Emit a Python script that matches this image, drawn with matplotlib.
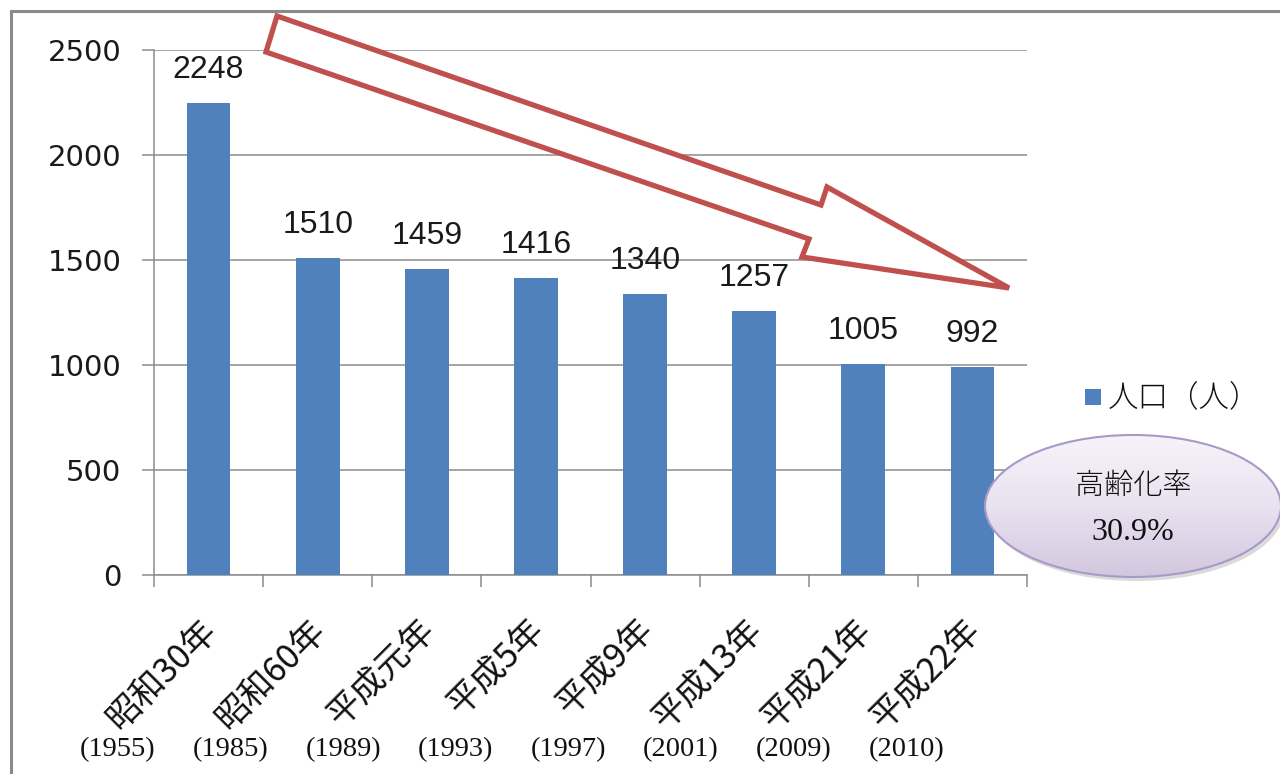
import numpy as np
import matplotlib
matplotlib.use("Agg")
import matplotlib.pyplot as plt
from matplotlib.patches import Polygon, Ellipse, Rectangle
from matplotlib.colors import LinearSegmentedColormap
import matplotlib.transforms as mtransforms

plt.rcParams['font.family'] = ['DejaVu Sans', 'Noto Sans CJK JP']

# ---- data ----
categories = ["昭和30年", "昭和60年", "平成元年", "平成5年", "平成9年", "平成13年", "平成21年", "平成22年"]
years = ["(1955)", "(1985)", "(1989)", "(1993)", "(1997)", "(2001)", "(2009)", "(2010)"]
population = [2248, 1510, 1459, 1416, 1340, 1257, 1005, 992]
legend_label = "人口（人）"
bubble_title = "高齢化率"
bubble_value = "30.9%"
yticks = [0, 500, 1000, 1500, 2000, 2500]

W, H = 1280, 774
fig = plt.figure(figsize=(W / 100, H / 100), dpi=100)
fig.patch.set_facecolor("white")

ax = fig.add_axes([154 / W, 1 - 575 / H, (1027 - 154) / W, (575 - 50) / H])
x = np.arange(len(categories))
ax.bar(x, population, width=0.4, color="#4F81BD", zorder=3)
ax.set_xlim(-0.5, len(categories) - 0.5)
ax.set_ylim(0, 2500)
ax.set_yticks(yticks)
ax.set_yticklabels([str(t) for t in yticks], fontsize=21, color="#1a1a1a")
ax.grid(axis="y", color="#8C8C8C", linewidth=1.1, zorder=0)
ax.set_axisbelow(True)
for s in ["top", "right"]:
    ax.spines[s].set_visible(False)
for s in ["left", "bottom"]:
    ax.spines[s].set_color("#8C8C8C")
    ax.spines[s].set_linewidth(1.1)
ax.tick_params(axis="y", length=8.6, width=1.1, color="#8C8C8C", pad=15)
ax.set_xticks([])
ax.set_xticks(np.arange(-0.5, len(categories), 1.0), minor=True)
ax.tick_params(axis="x", which="minor", length=8.6, width=1.1, color="#8C8C8C")
ax.tick_params(axis="x", which="major", length=0)
ax.patch.set_alpha(0)

# value labels
for i, v in enumerate(population):
    ax.annotate(str(v), (i, v), xytext=(0, 13), textcoords="offset points",
                ha="center", va="bottom", fontsize=23,
                family=["Liberation Sans", "DejaVu Sans"], color="#1a1a1a")

# category labels (rotated)
trans = mtransforms.blended_transform_factory(ax.transData, ax.transAxes)
trans = mtransforms.offset_copy(trans, fig=fig, x=2, y=-36, units="points")
for i, c in enumerate(categories):
    ax.text(i, 0, c, transform=trans, rotation=45, rotation_mode="anchor",
            ha="right", va="center", fontsize=24.5,
            family=["Noto Sans CJK JP", "DejaVu Sans"], color="#111111")

# ---- overlay in pixel coordinates ----
ov = fig.add_axes([0, 0, 1, 1], zorder=10)
ov.set_xlim(0, W)
ov.set_ylim(H, 0)
ov.axis("off")
ov.patch.set_alpha(0)

# frame
ov.plot([11, 11, W + 5], [H + 5, 11, 11], color="#8A8A8A", lw=2.2, solid_joinstyle="miter")

# years
for i, yl in enumerate(years):
    ov.text(118 + 112.6 * i, 750, yl, ha="center", va="center", fontsize=20.5,
            family=["Liberation Serif", "DejaVu Serif"], color="#111111")

# arrow
arrow_pts = [(277, 16), (821, 205), (827, 187), (1009, 288), (802, 257), (809, 239), (266, 52)]
ov.add_patch(Polygon(arrow_pts, closed=True, facecolor="white", edgecolor="#C0504D",
                     lw=3.8, joinstyle="miter"))

# legend
ov.add_patch(Rectangle((1085, 389), 16, 16, facecolor="#4F81BD", edgecolor="none"))
ov.text(1108, 397, legend_label, ha="left", va="center", fontsize=22,
        family=["Noto Sans CJK JP"], weight="light", color="#111111")

# bubble
cx, cy, ew, eh = 1133, 506, 296, 142
ov.add_patch(Ellipse((cx + 3, cy + 4), ew, eh, facecolor="#9a9a9a", alpha=0.35, edgecolor="none"))
ell = Ellipse((cx, cy), ew, eh, facecolor="none", edgecolor="#A899C8", lw=1.5, zorder=3)
ov.add_patch(ell)
cmap = LinearSegmentedColormap.from_list("lav", ["#F6F3F9", "#E9E2F0", "#D3C7DF"])
grad = np.linspace(0, 1, 256).reshape(-1, 1)
im = ov.imshow(grad, cmap=cmap, extent=(cx - ew / 2, cx + ew / 2, cy + eh / 2, cy - eh / 2),
               origin="upper", aspect="auto", zorder=2)
clip = Ellipse((cx, cy), ew, eh, transform=ov.transData)
im.set_clip_path(clip)
ov.set_xlim(0, W)
ov.set_ylim(H, 0)
ov.text(cx, 486, bubble_title, ha="center", va="center", fontsize=21,
        family=["Noto Sans CJK JP"], weight="light", color="#111111", zorder=4)
ov.text(cx, 533, bubble_value, ha="center", va="center", fontsize=23,
        family=["Liberation Serif", "DejaVu Serif"], color="#111111", zorder=4)

fig.savefig("out.png", dpi=100, facecolor="white")
